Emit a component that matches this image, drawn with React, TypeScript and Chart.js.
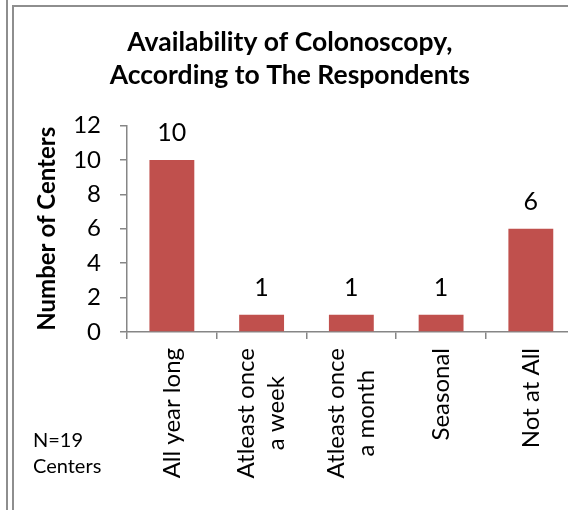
import React, { useEffect, useRef } from "react";
import { Chart, registerables } from "chart.js";

Chart.register(...registerables);

const titleLines = ["Availability of Colonoscopy,", "According to The Respondents"];
const yAxisTitle = "Number of Centers";
const categoryLines: string[][] = [
  ["All year long"],
  ["Atleast once", "a week"],
  ["Atleast once", "a month"],
  ["Seasonal"],
  ["Not at All"],
];
const centerCounts = [10, 1, 1, 1, 6];
const yTickMin = 0;
const yTickMax = 12;
const yTickStep = 2;
const noteLines = ["N=19", "Centers"];

const FONT = "Lato, 'Open Sans', sans-serif";
const AXIS_GRAY = "#868686";
const BAR_RED = "#C0504D";

const W = 590;
const H = 510;

export default function App() {
  const ref = useRef<HTMLCanvasElement | null>(null);

  useEffect(() => {
    let chart: Chart | null = null;
    let cancelled = false;

    const labelPlugin = {
      id: "labelsAndNotes",
      afterDatasetsDraw(c: any) {
        const ctx = c.ctx;
        const meta = c.getDatasetMeta(0);
        ctx.save();
        ctx.fillStyle = "#000";
        ctx.font = `25px ${FONT}`;
        ctx.textAlign = "center";
        ctx.textBaseline = "middle";
        meta.data.forEach((bar: any, i: number) => {
          ctx.fillText(String(centerCounts[i]), bar.x, bar.y - 27);
        });
        ctx.restore();
      },
      afterDraw(c: any) {
        const ctx = c.ctx;
        const xs = c.scales.x;
        const lh = 30;
        ctx.save();
        ctx.fillStyle = "#000";
        ctx.font = `24px ${FONT}`;
        ctx.textAlign = "center";
        ctx.textBaseline = "middle";
        const top = c.chartArea.bottom + 16;
        categoryLines.forEach((lines, i) => {
          const px = xs.getPixelForValue(i);
          const maxW = Math.max(...lines.map((l) => ctx.measureText(l).width));
          lines.forEach((line, j) => {
            const cx = px + (j - (lines.length - 1) / 2) * lh;
            ctx.save();
            ctx.translate(cx, top + maxW / 2);
            ctx.rotate(-Math.PI / 2);
            ctx.fillText(line, 0, 0);
            ctx.restore();
          });
        });
        ctx.font = `20px ${FONT}`;
        ctx.textAlign = "left";
        ctx.textBaseline = "alphabetic";
        noteLines.forEach((t, k) => ctx.fillText(t, 33, 447 + k * 26));
        ctx.restore();
      },
    };

    const create = () => {
      if (cancelled || !ref.current) return;
      chart = new Chart(ref.current, {
        type: "bar",
        data: {
          labels: categoryLines,
          datasets: [
            {
              data: centerCounts,
              backgroundColor: BAR_RED,
              borderWidth: 0,
              barPercentage: 0.5,
              categoryPercentage: 1,
            },
          ],
        },
        options: {
          responsive: false,
          animation: false,
          devicePixelRatio: 1,
          layout: { padding: { left: 4, right: W - 575.7, top: 0, bottom: 0 } },
          plugins: {
            legend: { display: false },
            tooltip: { enabled: false },
            title: {
              display: true,
              text: titleLines,
              color: "#000",
              font: { family: FONT, size: 26.5, weight: "bold", lineHeight: 33 / 26.5 },
              padding: { top: 25.5, bottom: 34 },
            },
          },
          scales: {
            x: {
              type: "category",
              offset: true,
              grid: {
                offset: true,
                drawOnChartArea: false,
                drawTicks: true,
                tickLength: 7,
                color: AXIS_GRAY,
                lineWidth: 1.5,
              },
              border: { color: AXIS_GRAY, width: 1.5 },
              ticks: { display: false },
              afterFit: (s: any) => {
                s.height = H - 332;
              },
            },
            y: {
              min: yTickMin,
              max: yTickMax,
              grid: {
                drawOnChartArea: false,
                drawTicks: true,
                tickLength: 7,
                color: AXIS_GRAY,
                lineWidth: 1.5,
              },
              border: { color: AXIS_GRAY, width: 1.5 },
              ticks: {
                stepSize: yTickStep,
                color: "#000",
                padding: 19,
                font: { family: FONT, size: 24 },
              },
              title: {
                display: true,
                text: yAxisTitle,
                color: "#000",
                font: { family: FONT, size: 24, weight: "bold", lineHeight: 1.2 },
                padding: { top: 28.6, bottom: 0 },
              },
              afterFit: (s: any) => {
                s.width = 123;
              },
            },
          },
        },
        plugins: [labelPlugin],
      });
    };

    const fonts = (document as any).fonts;
    if (fonts && fonts.load) {
      Promise.all([
        fonts.load(`24px Lato`),
        fonts.load(`bold 24px Lato`),
      ])
        .catch(() => null)
        .then(create);
    } else {
      create();
    }

    return () => {
      cancelled = true;
      if (chart) chart.destroy();
    };
  }, []);

  return (
    <div
      style={{
        position: "fixed",
        left: 0,
        top: 0,
        width: 568,
        height: 510,
        overflow: "hidden",
        background: "#fff",
      }}
    >
      <div style={{ position: "absolute", left: 6, top: 0, width: 2, height: 510, background: "#8e8e8e" }} />
      <div
        style={{
          position: "absolute",
          left: 12,
          top: 5,
          width: 700,
          height: 700,
          borderLeft: "2px solid #8e8e8e",
          borderTop: "2px solid #8e8e8e",
        }}
      />
      <canvas
        ref={ref}
        width={W}
        height={H}
        style={{ position: "absolute", left: 0, top: 0, width: W, height: H }}
      />
    </div>
  );
}
